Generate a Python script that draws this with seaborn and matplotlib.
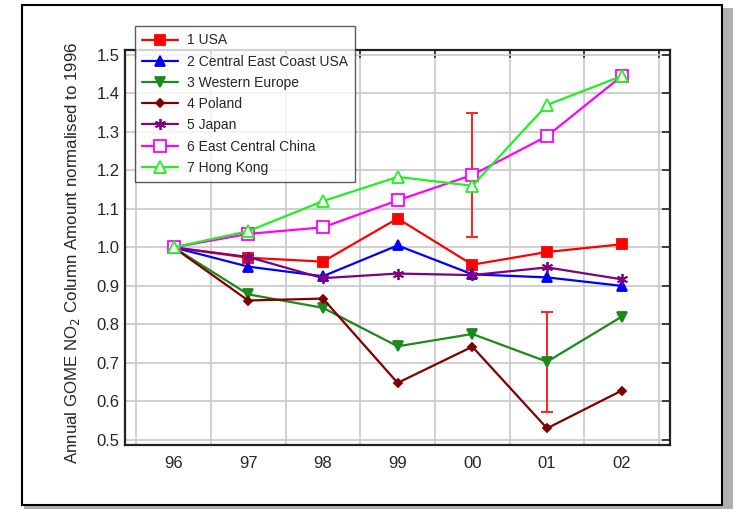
import matplotlib
matplotlib.use("Agg")
import matplotlib.pyplot as plt
import seaborn as sns
import numpy as np
import pandas as pd
from matplotlib.patches import Rectangle

years = ["96", "97", "98", "99", "00", "01", "02"]
names = ["1 USA", "2 Central East Coast USA", "3 Western Europe", "4 Poland",
         "5 Japan", "6 East Central China", "7 Hong Kong"]
usa = [1.0, 0.973, 0.963, 1.075, 0.955, 0.988, 1.008]
ce_usa = [1.0, 0.950, 0.925, 1.005, 0.930, 0.922, 0.900]
w_europe = [1.0, 0.878, 0.843, 0.743, 0.775, 0.703, 0.820]
poland = [1.0, 0.862, 0.867, 0.648, 0.742, 0.530, 0.628]
japan = [1.0, 0.975, 0.920, 0.932, 0.928, 0.948, 0.917]
ec_china = [1.0, 1.035, 1.052, 1.122, 1.188, 1.289, 1.445]
hong_kong = [1.0, 1.042, 1.120, 1.183, 1.160, 1.370, 1.445]
err_year = ["00", "01"]
err_center = [1.188, 0.702]
err_half = [0.160, 0.130]

series = [usa, ce_usa, w_europe, poland, japan, ec_china, hong_kong]
colors = ["#ff0000", "#0000ff", "#1a8a1a", "#800000", "#800080", "#ff00ff", "#22ee22"]
markers = ["s", "^", "v", "D", (6, 2, 0), "s", "^"]
msizes = [7, 6.5, 6.5, 4, 8, 8, 8]
filled = [True, True, True, True, True, False, False]

sns.set_theme(style="white")
plt.rcParams["font.family"] = ["Liberation Sans", "DejaVu Sans"]

fig = plt.figure(figsize=(7.35, 5.09), dpi=100)
# outer frame with shadow
fig.patches.append(Rectangle((0.032, 0.0), 0.965, 0.985, transform=fig.transFigure,
                             facecolor="#b0b0b0", edgecolor="none", zorder=-3))
fig.patches.append(Rectangle((0.030, 0.008), 0.952, 0.982, transform=fig.transFigure,
                             facecolor="white", edgecolor="black", linewidth=1.5, zorder=-2))

ax = fig.add_axes([0.170, 0.126, 0.742, 0.776])
ax.set_facecolor("white")

xpos = np.arange(len(years))
for vals, name, c, m, ms, f in zip(series, names, colors, markers, msizes, filled):
    df = pd.DataFrame({"x": xpos, "y": vals})
    sns.lineplot(data=df, x="x", y="y", ax=ax, color=c, marker=m, markersize=ms,
                 markerfacecolor=(c if f else "white"), markeredgecolor=c,
                 markeredgewidth=1.3, linewidth=1.6, label=name, zorder=3)

ex = [years.index(y) for y in err_year]
ax.errorbar(ex, err_center, yerr=err_half, fmt="none", ecolor="#ff2020",
            elinewidth=1.4, capsize=4, capthick=1.4, zorder=2)

ax.set_xlim(-0.65, 6.65)
ax.set_ylim(0.487, 1.513)
half = np.arange(-0.5, 7.0, 1.0)
ax.set_xticks(half)
ax.set_xticklabels([])
ax.set_xticks(xpos, minor=True)
ax.set_xticklabels(years, minor=True, fontsize=12)
ax.tick_params(axis="x", which="minor", length=0, pad=8)
ax.tick_params(axis="x", which="major", direction="in", length=6, top=True, width=1.2, color="#222222")
yt = np.round(np.arange(0.5, 1.51, 0.1), 1)
ax.set_yticks(yt)
ax.set_yticklabels([f"{v:.1f}" for v in yt], fontsize=12)
ax.tick_params(axis="y", direction="in", length=6, right=True, width=1.2, color="#222222", pad=4)
ax.grid(True, which="major", color="#c8c8c8", linewidth=1.2, zorder=0)
ax.set_axisbelow(True)
for s in ax.spines.values():
    s.set_color("#222222")
    s.set_linewidth(1.6)

ax.set_xlabel("")
ax.set_ylabel("Annual GOME NO$_2$ Column Amount normalised to 1996", fontsize=12.2)
ax.yaxis.set_label_coords(-0.078, 0.485)

leg = ax.legend(loc="upper left", bbox_to_anchor=(0.184, 0.948), bbox_transform=fig.transFigure,
                frameon=True, fancybox=False, fontsize=10, handlelength=2.6, labelspacing=0.52,
                borderpad=0.5, handletextpad=0.6, borderaxespad=0)
leg.get_frame().set_edgecolor("#333333")
leg.get_frame().set_linewidth(1.0)
leg.set_zorder(5)

fig.savefig("out.png", dpi=100)
